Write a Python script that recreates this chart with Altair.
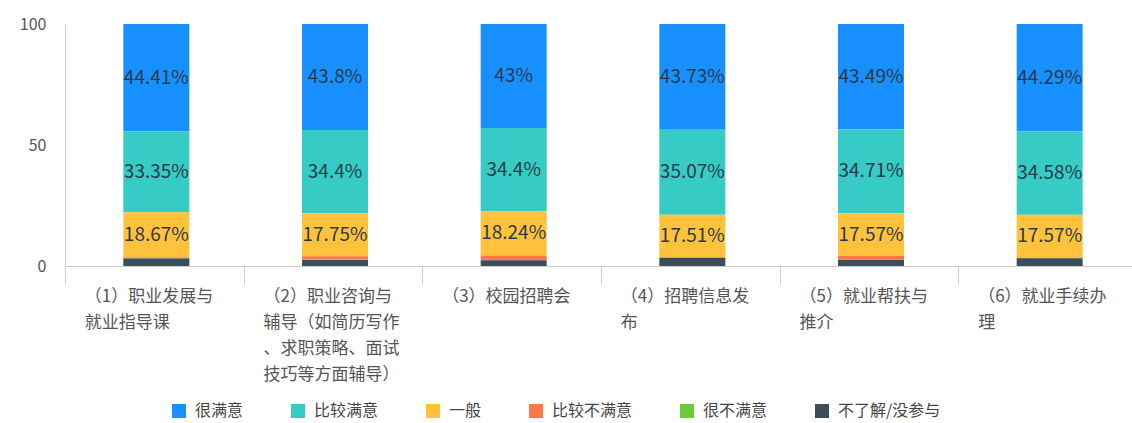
import altair as alt
import pandas as pd

categories = [
    "（1）职业发展与\n就业指导课",
    "（2）职业咨询与\n辅导（如简历写作\n、求职策略、面试\n技巧等方面辅导）",
    "（3）校园招聘会",
    "（4）招聘信息发\n布",
    "（5）就业帮扶与\n推介",
    "（6）就业手续办\n理",
]
series = ["很满意", "比较满意", "一般", "比较不满意", "很不满意", "不了解/没参与"]
very_satisfied = [44.41, 43.8, 43, 43.73, 43.49, 44.29]
satisfied = [33.35, 34.4, 34.4, 35.07, 34.71, 34.58]
neutral = [18.67, 17.75, 18.24, 17.51, 17.57, 17.57]
dissatisfied = [0.4, 1.5, 1.9, 0.3, 1.5, 0.3]
very_dissatisfied = [0.1, 0.1, 0.1, 0.1, 0.1, 0.1]
unknown = [3.07, 2.45, 2.36, 3.29, 2.63, 3.16]
colors = ["#1890FF", "#36CBC4", "#FFC23D", "#FF7845", "#6ECB3C", "#3E4D5A"]

values_by_series = [very_satisfied, satisfied, neutral, dissatisfied, very_dissatisfied, unknown]
rows = []
for si, (name, vals) in enumerate(zip(series, values_by_series)):
    for ci, cat in enumerate(categories):
        rows.append({"cat": cat, "series": name, "value": vals[ci],
                     "ord": len(series) - 1 - si, "labeled": si < 3})
df = pd.DataFrame(rows)

base = alt.Chart(df).encode(
    x=alt.X("cat:N", sort=categories, title=None,
            scale=alt.Scale(paddingInner=0, paddingOuter=0, range=[0, 1072]),
            axis=alt.Axis(labelAngle=0, tickBand="extent", tickSize=18,
                          tickColor="#d0d0d0", domainColor="#cccccc",
                          labelExpr="split(datum.label, '\\n')",
                          labelAlign="left", labelBaseline="top",
                          labelOffset=-70, labelPadding=4, labelLineHeight=26,
                          labelFontSize=17, labelColor="#555555",
                          labelLimit=300)),
)

bars = base.mark_bar(size=66, xOffset=2).encode(
    y=alt.Y("value:Q", stack="zero", title=None,
            scale=alt.Scale(domain=[0, 100], nice=False),
            axis=alt.Axis(values=[0, 50, 100], grid=False, ticks=False,
                          labelPadding=19, labelFontSize=16,
                          labelColor="#555555", domainColor="#cccccc")),
    color=alt.Color("series:N", sort=series,
                    scale=alt.Scale(domain=series, range=colors),
                    legend=alt.Legend(title=None, orient="none", direction="horizontal",
                                      legendX=106, legendY=379, padding=0,
                                      symbolType="square", symbolSize=196,
                                      symbolStrokeWidth=0, labelFontSize=16,
                                      labelColor="#444444", labelOffset=8,
                                      columnPadding=46, labelLimit=300)),
    order=alt.Order("ord:Q", sort="ascending"),
)

labels = base.transform_window(
    cum="sum(value)", groupby=["cat"], sort=[alt.SortField("ord")], frame=[None, 0]
).transform_calculate(
    mid="datum.cum - datum.value / 2", lbl="datum.value + '%'"
).transform_filter("datum.labeled").mark_text(fontSize=19, color="#2c3a48", dx=2).encode(
    y=alt.Y("mid:Q"),
    text="lbl:N",
)

chart = alt.layer(bars, labels).properties(
    width=1065, height=242,
    autosize=alt.AutoSizeParams(type="none"),
    padding={"left": 65, "top": 24, "right": 2, "bottom": 157},
).configure(font="Noto Sans CJK SC").configure_view(stroke=None)

chart.save("out.html", embed_options={"renderer": "svg", "actions": False})
